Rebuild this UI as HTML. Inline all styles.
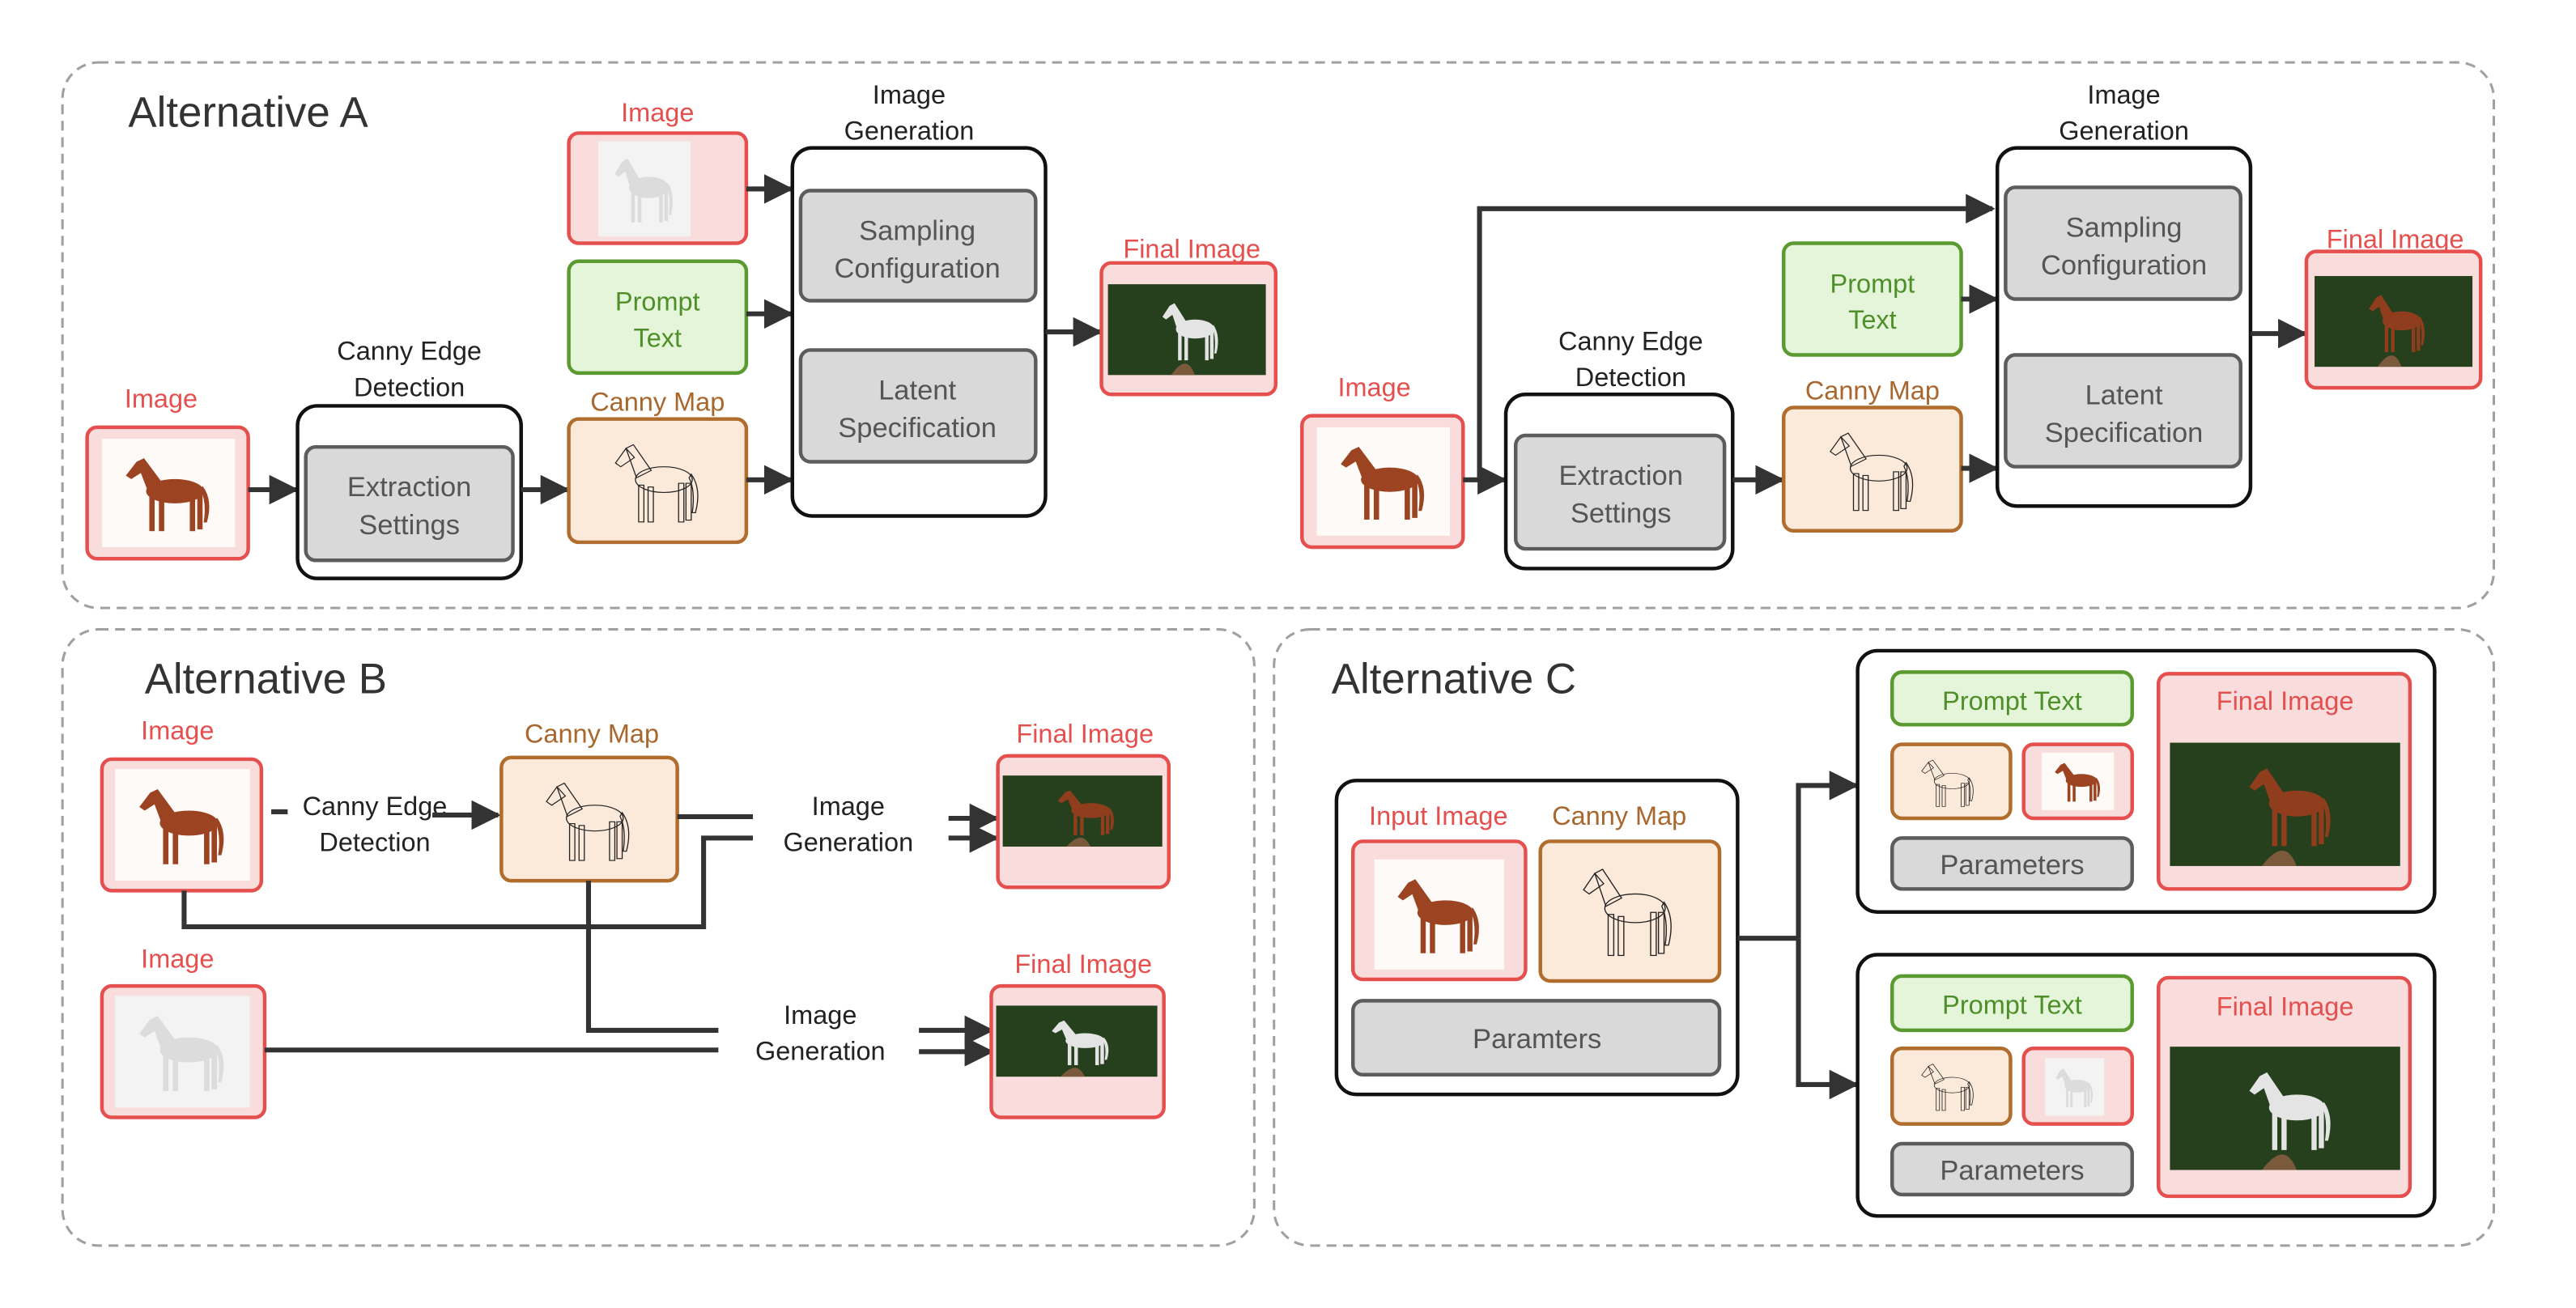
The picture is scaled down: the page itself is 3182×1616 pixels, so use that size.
<!DOCTYPE html>
<html><head><meta charset="utf-8"><style>
html,body{margin:0;padding:0;background:#fff}
svg{display:block}
text{font-family:"Liberation Sans",sans-serif}
</style></head><body>
<svg width="3182" height="1616" viewBox="0 0 1567 796" preserveAspectRatio="none" xmlns="http://www.w3.org/2000/svg">
<defs>
<symbol id="horse" viewBox="0 0 100 100">
<ellipse cx="56" cy="48" rx="27" ry="14"/>
<polygon points="30,46 20,14 27,10 44,38"/>
<polygon points="20,14 10,30 15,34 28,24"/>
<rect x="32" y="54" width="5" height="40"/>
<rect x="41" y="56" width="5" height="38"/>
<rect x="70" y="52" width="5" height="42"/>
<rect x="77" y="52" width="5" height="40"/>
<path d="M82,42 Q92,58 86,84 L83,84 Q86,60 80,46Z"/>
</symbol>
<marker id="a2" viewBox="0 0 10 10" refX="9" refY="5" markerWidth="6" markerHeight="6" orient="auto"><path d="M0,0L10,5L0,10Z" fill="#333"/></marker>
<g id="pbrown"><rect width="100" height="100" fill="#fdfaf7"/><use href="#horse" x="10" y="5" width="80" height="90" fill="#9c4422"/></g>
<g id="pwhite"><rect width="100" height="100" fill="#f3f3f3"/><use href="#horse" x="10" y="5" width="80" height="90" fill="#dcdcdc"/></g>
<g id="pcanny"><use href="#horse" x="10" y="5" width="80" height="90" fill="none" stroke="#222" stroke-width="1"/></g>
<g id="fbrown"><rect width="100" height="60" fill="#2c4a22"/><rect x="0" y="0" width="100" height="60" fill="#1f3518" opacity="0.5"/><path d="M40,60 Q50,45 55,60Z" fill="#7a5a3a"/><use href="#horse" x="30" y="3" width="45" height="55" fill="#8f3d1c"/></g>
<g id="fwhite"><rect width="100" height="60" fill="#2c4a22"/><rect x="0" y="0" width="100" height="60" fill="#1f3518" opacity="0.5"/><path d="M40,60 Q50,45 55,60Z" fill="#7a5a3a"/><use href="#horse" x="30" y="3" width="45" height="55" fill="#e4e4e4"/></g>
</defs>
<style>
.ln{stroke:#333;stroke-width:3;fill:none}
.ar{stroke:#333;stroke-width:3;fill:none;marker-end:url(#a2)}
.red{fill:#f9dcdc;stroke:#e5504f;stroke-width:2.2}
.brn{fill:#fbe9da;stroke:#b06d2d;stroke-width:2.2}
.grn{fill:#e4f5da;stroke:#5a9a30;stroke-width:2.2}
.gry{fill:#d9d9d9;stroke:#5c5c5c;stroke-width:2.2}
.blk{fill:#fff;stroke:#111;stroke-width:2.2}
.lr{fill:#e5504f;font-size:16px;text-anchor:middle}
.lb{fill:#a8672c;font-size:16px;text-anchor:middle}
.lg{fill:#4f8f2a;font-size:16px;text-anchor:middle}
.lk{fill:#222;font-size:16px;text-anchor:middle}
.lgr{fill:#555;font-size:17px;text-anchor:middle}
.ttl{fill:#333;font-size:26px}
</style>

<rect x="38" y="38" width="1479" height="332" rx="22" fill="none" stroke="#a0a0a0" stroke-width="1.5" stroke-dasharray="6,4"/>
<rect x="38" y="383" width="725" height="375" rx="22" fill="none" stroke="#a0a0a0" stroke-width="1.5" stroke-dasharray="6,4"/>
<rect x="775" y="383" width="742" height="375" rx="22" fill="none" stroke="#a0a0a0" stroke-width="1.5" stroke-dasharray="6,4"/>
<text class="ttl" x="78" y="77">Alternative A</text>
<text class="ttl" x="88" y="422">Alternative B</text>
<text class="ttl" x="810" y="422">Alternative C</text>

<text class="lr" x="98" y="248">Image</text>
<rect class="red" x="53" y="260" width="98" height="80" rx="6"/>
<use href="#pbrown" transform="translate(62,267) scale(0.81,0.66)"/>
<line class="ar" x1="151" y1="298" x2="180" y2="298"/>
<text class="lk" x="249" y="219">Canny Edge</text><text class="lk" x="249" y="241">Detection</text>
<rect class="blk" x="181" y="247" width="136" height="105" rx="12"/>
<rect class="gry" x="186" y="272" width="126" height="69" rx="6"/>
<text class="lgr" x="249" y="302">Extraction</text><text class="lgr" x="249" y="325">Settings</text>
<line class="ar" x1="317" y1="298" x2="345" y2="298"/>
<text class="lr" x="400" y="74">Image</text>
<rect class="red" x="346" y="81" width="108" height="67" rx="6"/>
<use href="#pwhite" transform="translate(364,86) scale(0.56,0.58)"/>
<rect class="grn" x="346" y="159" width="108" height="68" rx="6"/>
<text class="lg" x="400" y="189">Prompt</text><text class="lg" x="400" y="211">Text</text>
<text class="lb" x="400" y="250">Canny Map</text>
<rect class="brn" x="346" y="255" width="108" height="75" rx="6"/>
<use href="#pcanny" transform="translate(360,258) scale(0.8,0.7)"/>
<line class="ar" x1="454" y1="115" x2="481" y2="115"/>
<line class="ar" x1="454" y1="191" x2="481" y2="191"/>
<line class="ar" x1="454" y1="292" x2="481" y2="292"/>
<text class="lk" x="553" y="63">Image</text><text class="lk" x="553" y="85">Generation</text>
<rect class="blk" x="482" y="90" width="154" height="224" rx="12"/>
<rect class="gry" x="487" y="116" width="143" height="67" rx="6"/>
<text class="lgr" x="558" y="146">Sampling</text><text class="lgr" x="558" y="169">Configuration</text>
<rect class="gry" x="487" y="213" width="143" height="68" rx="6"/>
<text class="lgr" x="558" y="243">Latent</text><text class="lgr" x="558" y="266">Specification</text>
<line class="ar" x1="636" y1="202" x2="669" y2="202"/>
<text class="lr" x="725" y="157">Final Image</text>
<rect class="red" x="670" y="160" width="106" height="80" rx="6"/>
<use href="#fwhite" transform="translate(674,173) scale(0.96,0.92)"/>

<text class="lr" x="836" y="241">Image</text>
<rect class="red" x="792" y="253" width="98" height="80" rx="6"/>
<use href="#pbrown" transform="translate(801,260) scale(0.81,0.66)"/>
<line class="ar" x1="890" y1="292" x2="915" y2="292"/>
<polyline class="ar" points="900,292 900,127 1212,127"/>
<text class="lk" x="992" y="213">Canny Edge</text><text class="lk" x="992" y="235">Detection</text>
<rect class="blk" x="916" y="240" width="138" height="106" rx="12"/>
<rect class="gry" x="922" y="265" width="127" height="69" rx="6"/>
<text class="lgr" x="986" y="295">Extraction</text><text class="lgr" x="986" y="318">Settings</text>
<line class="ar" x1="1054" y1="292" x2="1084" y2="292"/>
<rect class="grn" x="1085" y="148" width="108" height="68" rx="6"/>
<text class="lg" x="1139" y="178">Prompt</text><text class="lg" x="1139" y="200">Text</text>
<text class="lb" x="1139" y="243">Canny Map</text>
<rect class="brn" x="1085" y="248" width="108" height="75" rx="6"/>
<use href="#pcanny" transform="translate(1099,251) scale(0.8,0.7)"/>
<line class="ar" x1="1193" y1="182" x2="1214" y2="182"/>
<line class="ar" x1="1193" y1="285" x2="1214" y2="285"/>
<text class="lk" x="1292" y="63">Image</text><text class="lk" x="1292" y="85">Generation</text>
<rect class="blk" x="1215" y="90" width="154" height="218" rx="12"/>
<rect class="gry" x="1220" y="114" width="143" height="68" rx="6"/>
<text class="lgr" x="1292" y="144">Sampling</text><text class="lgr" x="1292" y="167">Configuration</text>
<rect class="gry" x="1220" y="216" width="143" height="68" rx="6"/>
<text class="lgr" x="1292" y="246">Latent</text><text class="lgr" x="1292" y="269">Specification</text>
<line class="ar" x1="1369" y1="203" x2="1402" y2="203"/>
<text class="lr" x="1457" y="151">Final Image</text>
<rect class="red" x="1403" y="153" width="106" height="83" rx="6"/>
<use href="#fbrown" transform="translate(1408,168) scale(0.96,0.92)"/>

<text class="lr" x="108" y="450">Image</text>
<rect class="red" x="62" y="462" width="97" height="80" rx="6"/>
<use href="#pbrown" transform="translate(70,468) scale(0.82,0.68)"/>
<line class="ln" x1="165" y1="494" x2="175" y2="494"/>
<text class="lk" x="228" y="496">Canny Edge</text><text class="lk" x="228" y="518">Detection</text>
<line class="ar" x1="263" y1="496" x2="303" y2="496"/>
<text class="lb" x="360" y="452">Canny Map</text>
<rect class="brn" x="305" y="461" width="107" height="75" rx="6"/>
<use href="#pcanny" transform="translate(318,464) scale(0.8,0.7)"/>
<line class="ln" x1="412" y1="497" x2="458" y2="497"/>
<polyline class="ln" points="458,510 428,510 428,564 112,564 112,542"/>
<text class="lk" x="516" y="496">Image</text><text class="lk" x="516" y="518">Generation</text>
<line class="ar" x1="577" y1="498" x2="606" y2="498"/>
<line class="ar" x1="577" y1="510" x2="606" y2="510"/>
<text class="lr" x="660" y="452">Final Image</text>
<rect class="red" x="607" y="460" width="104" height="80" rx="6"/>
<use href="#fbrown" transform="translate(610,472) scale(0.97,0.72)"/>
<text class="lr" x="108" y="589">Image</text>
<rect class="red" x="62" y="600" width="99" height="80" rx="6"/>
<use href="#pwhite" transform="translate(70,606) scale(0.82,0.68)"/>
<polyline class="ln" points="358,536 358,627 437,627"/>
<line class="ln" x1="161" y1="639" x2="437" y2="639"/>
<text class="lk" x="499" y="623">Image</text><text class="lk" x="499" y="645">Generation</text>
<line class="ar" x1="559" y1="627" x2="603" y2="627"/>
<line class="ar" x1="559" y1="640" x2="603" y2="640"/>
<text class="lr" x="659" y="592">Final Image</text>
<rect class="red" x="603" y="600" width="105" height="80" rx="6"/>
<use href="#fwhite" transform="translate(606,612) scale(0.98,0.72)"/>

<rect class="blk" x="813" y="475" width="244" height="191" rx="12"/>
<text class="lr" x="875" y="502">Input Image</text>
<text class="lb" x="985" y="502">Canny Map</text>
<rect class="red" x="823" y="512" width="105" height="84" rx="6"/>
<use href="#pbrown" transform="translate(836,523) scale(0.79,0.67)"/>
<rect class="brn" x="937" y="512" width="109" height="85" rx="6"/>
<use href="#pcanny" transform="translate(948,515) scale(0.85,0.78)"/>
<rect class="gry" x="823" y="609" width="223" height="45" rx="6"/>
<text class="lgr" x="935" y="638">Paramters</text>
<line class="ln" x1="1057" y1="571" x2="1094" y2="571"/>
<polyline class="ar" points="1094,571 1094,478 1129,478"/>
<polyline class="ar" points="1094,571 1094,660 1129,660"/>

<rect class="blk" x="1130" y="396" width="351" height="159" rx="12"/>
<rect class="grn" x="1151" y="409" width="146" height="32" rx="6"/>
<text class="lg" x="1224" y="432">Prompt Text</text>
<rect class="brn" x="1151" y="453" width="72" height="45" rx="6"/>
<use href="#pcanny" transform="translate(1160,455) scale(0.5,0.42)"/>
<rect class="red" x="1231" y="453" width="66" height="45" rx="6"/>
<use href="#pbrown" transform="translate(1242,458) scale(0.44,0.35)"/>
<rect class="gry" x="1151" y="510" width="146" height="31" rx="6"/>
<text class="lgr" x="1224" y="532" font-size="16">Parameters</text>
<rect class="red" x="1313" y="410" width="153" height="131" rx="6"/>
<text class="lr" x="1390" y="432">Final Image</text>
<use href="#fbrown" transform="translate(1320,452) scale(1.4,1.25)"/>

<rect class="blk" x="1130" y="581" width="351" height="159" rx="12"/>
<rect class="grn" x="1151" y="594" width="146" height="33" rx="6"/>
<text class="lg" x="1224" y="617">Prompt Text</text>
<rect class="brn" x="1151" y="638" width="72" height="46" rx="6"/>
<use href="#pcanny" transform="translate(1160,640) scale(0.5,0.42)"/>
<rect class="red" x="1231" y="638" width="66" height="46" rx="6"/>
<use href="#pwhite" transform="translate(1244,644) scale(0.36,0.35)"/>
<rect class="gry" x="1151" y="696" width="146" height="31" rx="6"/>
<text class="lgr" x="1224" y="718" font-size="16">Parameters</text>
<rect class="red" x="1313" y="595" width="153" height="133" rx="6"/>
<text class="lr" x="1390" y="618">Final Image</text>
<use href="#fwhite" transform="translate(1320,637) scale(1.4,1.25)"/>
</svg>
</body></html>
